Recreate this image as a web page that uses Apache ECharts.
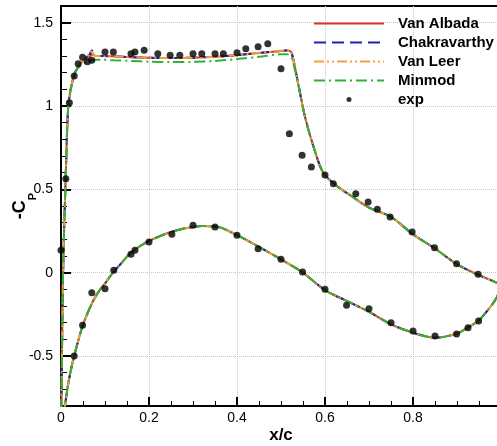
<!DOCTYPE html>
<html>
<head>
<meta charset="utf-8">
<script src="https://cdn.jsdelivr.net/npm/echarts@6/dist/echarts.min.js"></script>
<style>html,body{margin:0;padding:0;background:#fff;}#c{width:497px;height:446px;}</style>
</head>
<body>
<div id="c"></div>
<script>
// ---- data ----
const seriesNames = ['Van Albada', 'Chakravarthy', 'Van Leer', 'Minmod', 'exp'];
const xTicks = [0, 0.2, 0.4, 0.6, 0.8, 1];
const yTicks = [-0.5, 0, 0.5, 1, 1.5];

// upper surface, leading edge -> trailing edge
const upperX = [0, 0.002, 0.004, 0.007, 0.011, 0.016, 0.022, 0.032, 0.043, 0.055, 0.065, 0.07, 0.077, 0.09, 0.12, 0.16, 0.2, 0.25, 0.3, 0.35, 0.4, 0.45, 0.5, 0.515, 0.524, 0.54, 0.555, 0.577, 0.596, 0.627, 0.66, 0.70, 0.75, 0.80, 0.85, 0.90, 0.95, 0.99, 1.0];
const upperVanAlbada   = [-1.0, -0.55, -0.1, 0.25, 0.6, 0.98, 1.1, 1.2, 1.25, 1.28, 1.295, 1.31, 1.302, 1.30, 1.298, 1.293, 1.29, 1.288, 1.29, 1.296, 1.305, 1.318, 1.33, 1.333, 1.32, 1.12, 0.93, 0.73, 0.60, 0.52, 0.46, 0.39, 0.335, 0.23, 0.145, 0.05, -0.015, -0.06, -0.08];
const upperChakravarthy = [-1.0, -0.55, -0.1, 0.25, 0.6, 0.98, 1.1, 1.2, 1.25, 1.285, 1.31, 1.335, 1.30, 1.30, 1.298, 1.293, 1.29, 1.288, 1.29, 1.296, 1.305, 1.318, 1.33, 1.335, 1.32, 1.12, 0.93, 0.73, 0.60, 0.52, 0.46, 0.39, 0.335, 0.23, 0.145, 0.05, -0.015, -0.06, -0.08];
const upperVanLeer     = [-1.0, -0.55, -0.1, 0.25, 0.6, 0.98, 1.1, 1.2, 1.25, 1.285, 1.31, 1.335, 1.30, 1.30, 1.298, 1.293, 1.29, 1.288, 1.29, 1.296, 1.305, 1.318, 1.33, 1.335, 1.32, 1.12, 0.93, 0.73, 0.60, 0.52, 0.46, 0.39, 0.335, 0.23, 0.145, 0.05, -0.015, -0.06, -0.08];
const upperMinmod      = [-1.0, -0.55, -0.1, 0.25, 0.6, 0.98, 1.1, 1.2, 1.24, 1.26, 1.27, 1.275, 1.278, 1.278, 1.274, 1.27, 1.266, 1.264, 1.265, 1.27, 1.282, 1.295, 1.31, 1.31, 1.29, 1.12, 0.93, 0.73, 0.60, 0.52, 0.46, 0.39, 0.335, 0.23, 0.145, 0.05, -0.015, -0.06, -0.08];

// lower surface, leading edge -> trailing edge
const lowerX = [0, 0.004, 0.009, 0.015, 0.022, 0.03, 0.04, 0.049, 0.06, 0.075, 0.089, 0.1, 0.118, 0.14, 0.157, 0.18, 0.2, 0.24, 0.28, 0.32, 0.36, 0.4, 0.45, 0.5, 0.55, 0.6, 0.65, 0.7, 0.75, 0.8, 0.85, 0.9, 0.924, 0.948, 0.97, 0.99, 1.0];
const lowerCp = [-1.0, -0.92, -0.8, -0.69, -0.59, -0.50, -0.40, -0.32, -0.245, -0.16, -0.10, -0.065, 0.0, 0.065, 0.115, 0.16, 0.19, 0.235, 0.265, 0.28, 0.272, 0.225, 0.155, 0.08, 0.0, -0.105, -0.17, -0.235, -0.31, -0.36, -0.39, -0.366, -0.33, -0.29, -0.225, -0.15, -0.08];

// experiment
const expUpperX = [0.0, 0.011, 0.019, 0.03, 0.039, 0.049, 0.06, 0.07, 0.1, 0.119, 0.159, 0.168, 0.189, 0.22, 0.248, 0.27, 0.3, 0.32, 0.35, 0.369, 0.4, 0.42, 0.448, 0.47, 0.5, 0.519, 0.548, 0.569, 0.6, 0.619, 0.67, 0.698, 0.719, 0.748, 0.798, 0.849, 0.899, 0.948];
const expUpperCp = [0.134, 0.564, 1.02, 1.18, 1.254, 1.293, 1.266, 1.274, 1.324, 1.324, 1.314, 1.324, 1.334, 1.314, 1.305, 1.305, 1.314, 1.314, 1.314, 1.314, 1.32, 1.344, 1.355, 1.374, 1.224, 0.834, 0.704, 0.634, 0.586, 0.534, 0.474, 0.424, 0.38, 0.334, 0.244, 0.15, 0.054, -0.01];
const expLowerX = [0.03, 0.049, 0.07, 0.1, 0.12, 0.159, 0.168, 0.2, 0.252, 0.3, 0.35, 0.4, 0.448, 0.5, 0.549, 0.6, 0.649, 0.7, 0.75, 0.8, 0.85, 0.899, 0.925, 0.949];
const expLowerCp = [-0.5, -0.316, -0.12, -0.096, 0.014, 0.11, 0.134, 0.184, 0.23, 0.284, 0.274, 0.224, 0.144, 0.08, 0.004, -0.1, -0.196, -0.216, -0.3, -0.35, -0.38, -0.368, -0.33, -0.29];

// ---- build ----
function loop(upperY) {
  const pts = [];
  for (let i = upperX.length - 1; i >= 0; i--) pts.push([upperX[i], upperY[i]]);
  for (let i = 0; i < lowerX.length; i++) pts.push([lowerX[i], lowerCp[i]]);
  return pts;
}
const expData = expUpperX.map((x, i) => [x, expUpperCp[i]]).concat(expLowerX.map((x, i) => [x, expLowerCp[i]]));

const styles = [
  {color: '#d9302b', type: 'solid'},
  {color: '#1a22b0', type: [12, 6]},
  {color: '#f5a03a', type: [10, 3, 2, 3, 2, 3]},
  {color: '#34b034', type: [11, 4, 2, 4]}
];
const upperSets = [upperVanAlbada, upperChakravarthy, upperVanLeer, upperMinmod];

const series = upperSets.map((u, i) => ({
  name: seriesNames[i],
  type: 'line',
  data: loop(u),
  symbol: 'none',
  smooth: 0.3,
  clip: true,
  z: 2 + i,
  color: styles[i].color,
  lineStyle: {color: styles[i].color, width: 2, type: styles[i].type},
  animation: false
}));
series.push({
  name: seriesNames[4],
  type: 'scatter',
  data: expData,
  symbol: 'circle',
  symbolSize: 7,
  color: '#000',
  itemStyle: {color: '#000'},
  z: 10,
  animation: false
});

const font = '"Liberation Sans", Arial, sans-serif';
const chart = echarts.init(document.getElementById('c'), null, {renderer: 'canvas'});
chart.setOption({
  animation: false,
  backgroundColor: '#fff',
  grid: {left: 61, top: 6, right: -4, bottom: 40, containLabel: false, outerBoundsMode: 'none', show: true, borderColor: '#000', borderWidth: 2, backgroundColor: 'transparent'},
  legend: {
    orient: 'vertical',
    left: 308,
    top: 11,
    itemWidth: 70,
    itemHeight: 14,
    itemGap: 4,
    selectedMode: false,
    formatter: n => '{t|' + n + '}',
    textStyle: {
      fontFamily: font, fontSize: 15, fontWeight: 'bold', color: '#000',
      rich: {t: {fontFamily: font, fontSize: 15, fontWeight: 'bold', color: '#000', padding: [0, 0, 0, 9]}}
    },
    data: [
      {name: 'Van Albada', itemStyle: {opacity: 0}},
      {name: 'Chakravarthy', itemStyle: {opacity: 0}},
      {name: 'Van Leer', itemStyle: {opacity: 0}},
      {name: 'Minmod', itemStyle: {opacity: 0}},
      {name: 'exp', icon: 'path://M0,0 M70,14 M32.5,7 A2.5,2.5 0 1,0 37.5,7 A2.5,2.5 0 1,0 32.5,7 Z', itemStyle: {color: '#000'}}
    ]
  },
  xAxis: {
    type: 'value',
    min: xTicks[0],
    max: xTicks[xTicks.length - 1],
    interval: 0.2,
    name: 'x/c',
    nameLocation: 'middle',
    nameGap: 21,
    nameMoveOverlap: false,
    nameTextStyle: {fontFamily: font, fontSize: 17, fontWeight: 'bold', color: '#000'},
    axisLine: {show: true, onZero: false, lineStyle: {color: '#000', width: 2}},
    axisTick: {show: true, inside: true, length: 9, lineStyle: {color: '#000', width: 2}},
    minorTick: {show: true, splitNumber: 4, length: 5, lineStyle: {color: '#000', width: 1}},
    axisLabel: {fontFamily: font, fontSize: 14, color: '#000', margin: 5, formatter: v => String(v)},
    splitLine: {show: true, lineStyle: {color: '#c8c8c8', type: 'dotted', width: 1}}
  },
  yAxis: [
    {
      type: 'value',
      min: -0.8,
      max: 1.6,
      name: '{a|-C}{b|P}',
      nameLocation: 'middle',
      nameRotate: 90,
      nameGap: 32,
      nameMoveOverlap: false,
      nameTextStyle: {
        fontFamily: font, color: '#000',
        rich: {
          a: {fontFamily: font, fontSize: 18, fontWeight: 'bold', color: '#000', lineHeight: 18, verticalAlign: 'top'},
          b: {fontFamily: font, fontSize: 11, fontWeight: 'bold', color: '#000', lineHeight: 11, verticalAlign: 'top', padding: [16, 0, 0, 0]}
        }
      },
      axisLine: {show: true, onZero: false, lineStyle: {color: '#000', width: 2}},
      axisTick: {show: true, inside: true, length: 10, customValues: yTicks, lineStyle: {color: '#000', width: 2}},
      axisLabel: {fontFamily: font, fontSize: 14, color: '#000', margin: 8, customValues: yTicks, formatter: v => String(v)},
      splitLine: {show: true, lineStyle: {color: '#c8c8c8', type: 'dotted', width: 1}}
    },
    {
      type: 'value',
      min: -0.8,
      max: 1.6,
      interval: 0.1,
      position: 'left',
      axisLine: {show: false},
      axisTick: {show: true, inside: true, length: 6, lineStyle: {color: '#000', width: 1}},
      axisLabel: {show: false},
      splitLine: {show: false}
    }
  ],
  series: series
});
</script>
</body>
</html>
